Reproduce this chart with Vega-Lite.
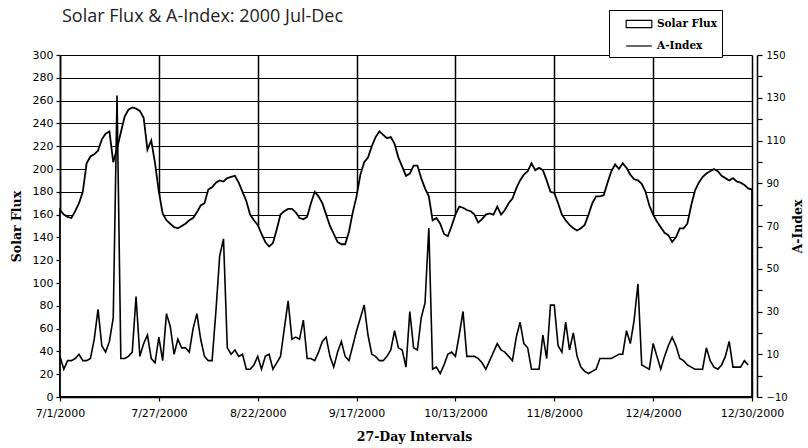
{
  "$schema": "https://vega.github.io/schema/vega-lite/v6.json",
  "width": 692,
  "height": 342,
  "autosize": {"type": "none"},
  "padding": {"left": 60, "top": 55, "right": 56, "bottom": 51},
  "background": "white",
  "config": {"view": {"stroke": null}},
  "title": {"text": "Solar Flux & A-Index: 2000 Jul-Dec", "anchor": "start", "frame": "group", "font": "Open Sans", "fontSize": 18, "fontWeight": "normal", "color": "#222222", "offset": 0, "dy": 16, "dx": 2},
  "data": {"values": [
    {"date": "2000/07/01", "flux": 164, "a": 9},
    {"date": "2000/07/02", "flux": 160, "a": 3},
    {"date": "2000/07/03", "flux": 158, "a": 7},
    {"date": "2000/07/04", "flux": 157, "a": 7},
    {"date": "2000/07/05", "flux": 163, "a": 8},
    {"date": "2000/07/06", "flux": 170, "a": 10},
    {"date": "2000/07/07", "flux": 180, "a": 7},
    {"date": "2000/07/08", "flux": 205, "a": 7},
    {"date": "2000/07/09", "flux": 211, "a": 8},
    {"date": "2000/07/10", "flux": 213, "a": 17},
    {"date": "2000/07/11", "flux": 216, "a": 31},
    {"date": "2000/07/12", "flux": 226, "a": 14},
    {"date": "2000/07/13", "flux": 231, "a": 11},
    {"date": "2000/07/14", "flux": 233, "a": 16},
    {"date": "2000/07/15", "flux": 206, "a": 27},
    {"date": "2000/07/16", "flux": 218, "a": 131},
    {"date": "2000/07/17", "flux": 232, "a": 8},
    {"date": "2000/07/18", "flux": 246, "a": 8},
    {"date": "2000/07/19", "flux": 252, "a": 9},
    {"date": "2000/07/20", "flux": 254, "a": 11},
    {"date": "2000/07/21", "flux": 253, "a": 37},
    {"date": "2000/07/22", "flux": 251, "a": 9},
    {"date": "2000/07/23", "flux": 245, "a": 15},
    {"date": "2000/07/24", "flux": 217, "a": 19},
    {"date": "2000/07/25", "flux": 225, "a": 8},
    {"date": "2000/07/26", "flux": 205, "a": 6},
    {"date": "2000/07/27", "flux": 180, "a": 18},
    {"date": "2000/07/28", "flux": 161, "a": 7},
    {"date": "2000/07/29", "flux": 155, "a": 29},
    {"date": "2000/07/30", "flux": 152, "a": 23},
    {"date": "2000/07/31", "flux": 149, "a": 10},
    {"date": "2000/08/01", "flux": 148, "a": 17},
    {"date": "2000/08/02", "flux": 150, "a": 13},
    {"date": "2000/08/03", "flux": 152, "a": 13},
    {"date": "2000/08/04", "flux": 155, "a": 11},
    {"date": "2000/08/05", "flux": 157, "a": 22},
    {"date": "2000/08/06", "flux": 162, "a": 29},
    {"date": "2000/08/07", "flux": 168, "a": 17},
    {"date": "2000/08/08", "flux": 170, "a": 9},
    {"date": "2000/08/09", "flux": 182, "a": 7},
    {"date": "2000/08/10", "flux": 184, "a": 7},
    {"date": "2000/08/11", "flux": 188, "a": 30},
    {"date": "2000/08/12", "flux": 190, "a": 56},
    {"date": "2000/08/13", "flux": 189, "a": 64},
    {"date": "2000/08/14", "flux": 192, "a": 13},
    {"date": "2000/08/15", "flux": 193, "a": 10},
    {"date": "2000/08/16", "flux": 194, "a": 12},
    {"date": "2000/08/17", "flux": 188, "a": 9},
    {"date": "2000/08/18", "flux": 180, "a": 10},
    {"date": "2000/08/19", "flux": 172, "a": 3},
    {"date": "2000/08/20", "flux": 160, "a": 3},
    {"date": "2000/08/21", "flux": 155, "a": 5},
    {"date": "2000/08/22", "flux": 151, "a": 9},
    {"date": "2000/08/23", "flux": 143, "a": 3},
    {"date": "2000/08/24", "flux": 136, "a": 9},
    {"date": "2000/08/25", "flux": 132, "a": 10},
    {"date": "2000/08/26", "flux": 135, "a": 3},
    {"date": "2000/08/27", "flux": 147, "a": 6},
    {"date": "2000/08/28", "flux": 160, "a": 9},
    {"date": "2000/08/29", "flux": 163, "a": 22},
    {"date": "2000/08/30", "flux": 165, "a": 35},
    {"date": "2000/08/31", "flux": 165, "a": 17},
    {"date": "2000/09/01", "flux": 162, "a": 18},
    {"date": "2000/09/02", "flux": 157, "a": 17},
    {"date": "2000/09/03", "flux": 156, "a": 26},
    {"date": "2000/09/04", "flux": 158, "a": 8},
    {"date": "2000/09/05", "flux": 170, "a": 8},
    {"date": "2000/09/06", "flux": 180, "a": 7},
    {"date": "2000/09/07", "flux": 176, "a": 11},
    {"date": "2000/09/08", "flux": 170, "a": 16},
    {"date": "2000/09/09", "flux": 160, "a": 18},
    {"date": "2000/09/10", "flux": 150, "a": 9},
    {"date": "2000/09/11", "flux": 143, "a": 4},
    {"date": "2000/09/12", "flux": 136, "a": 11},
    {"date": "2000/09/13", "flux": 134, "a": 16},
    {"date": "2000/09/14", "flux": 134, "a": 9},
    {"date": "2000/09/15", "flux": 145, "a": 7},
    {"date": "2000/09/16", "flux": 162, "a": 14},
    {"date": "2000/09/17", "flux": 176, "a": 21},
    {"date": "2000/09/18", "flux": 195, "a": 27},
    {"date": "2000/09/19", "flux": 206, "a": 33},
    {"date": "2000/09/20", "flux": 210, "a": 19},
    {"date": "2000/09/21", "flux": 220, "a": 10},
    {"date": "2000/09/22", "flux": 228, "a": 9},
    {"date": "2000/09/23", "flux": 233, "a": 7},
    {"date": "2000/09/24", "flux": 230, "a": 7},
    {"date": "2000/09/25", "flux": 227, "a": 9},
    {"date": "2000/09/26", "flux": 228, "a": 12},
    {"date": "2000/09/27", "flux": 222, "a": 21},
    {"date": "2000/09/28", "flux": 210, "a": 13},
    {"date": "2000/09/29", "flux": 202, "a": 12},
    {"date": "2000/09/30", "flux": 194, "a": 4},
    {"date": "2000/10/01", "flux": 196, "a": 30},
    {"date": "2000/10/02", "flux": 203, "a": 13},
    {"date": "2000/10/03", "flux": 203, "a": 12},
    {"date": "2000/10/04", "flux": 192, "a": 27},
    {"date": "2000/10/05", "flux": 183, "a": 34},
    {"date": "2000/10/06", "flux": 176, "a": 69},
    {"date": "2000/10/07", "flux": 155, "a": 3},
    {"date": "2000/10/08", "flux": 157, "a": 4},
    {"date": "2000/10/09", "flux": 152, "a": 1},
    {"date": "2000/10/10", "flux": 143, "a": 5},
    {"date": "2000/10/11", "flux": 141, "a": 10},
    {"date": "2000/10/12", "flux": 150, "a": 11},
    {"date": "2000/10/13", "flux": 160, "a": 9},
    {"date": "2000/10/14", "flux": 167, "a": 19},
    {"date": "2000/10/15", "flux": 166, "a": 30},
    {"date": "2000/10/16", "flux": 164, "a": 9},
    {"date": "2000/10/17", "flux": 163, "a": 9},
    {"date": "2000/10/18", "flux": 160, "a": 9},
    {"date": "2000/10/19", "flux": 153, "a": 8},
    {"date": "2000/10/20", "flux": 156, "a": 6},
    {"date": "2000/10/21", "flux": 160, "a": 3},
    {"date": "2000/10/22", "flux": 161, "a": 7},
    {"date": "2000/10/23", "flux": 160, "a": 11},
    {"date": "2000/10/24", "flux": 167, "a": 15},
    {"date": "2000/10/25", "flux": 160, "a": 12},
    {"date": "2000/10/26", "flux": 164, "a": 11},
    {"date": "2000/10/27", "flux": 170, "a": 9},
    {"date": "2000/10/28", "flux": 174, "a": 7},
    {"date": "2000/10/29", "flux": 183, "a": 18},
    {"date": "2000/10/30", "flux": 190, "a": 25},
    {"date": "2000/10/31", "flux": 195, "a": 15},
    {"date": "2000/11/01", "flux": 198, "a": 13},
    {"date": "2000/11/02", "flux": 205, "a": 3},
    {"date": "2000/11/03", "flux": 199, "a": 3},
    {"date": "2000/11/04", "flux": 201, "a": 3},
    {"date": "2000/11/05", "flux": 199, "a": 19},
    {"date": "2000/11/06", "flux": 190, "a": 8},
    {"date": "2000/11/07", "flux": 180, "a": 33},
    {"date": "2000/11/08", "flux": 179, "a": 33},
    {"date": "2000/11/09", "flux": 170, "a": 14},
    {"date": "2000/11/10", "flux": 160, "a": 11},
    {"date": "2000/11/11", "flux": 155, "a": 25},
    {"date": "2000/11/12", "flux": 151, "a": 12},
    {"date": "2000/11/13", "flux": 148, "a": 20},
    {"date": "2000/11/14", "flux": 146, "a": 9},
    {"date": "2000/11/15", "flux": 148, "a": 4},
    {"date": "2000/11/16", "flux": 151, "a": 2},
    {"date": "2000/11/17", "flux": 160, "a": 1},
    {"date": "2000/11/18", "flux": 170, "a": 2},
    {"date": "2000/11/19", "flux": 176, "a": 3},
    {"date": "2000/11/20", "flux": 176, "a": 8},
    {"date": "2000/11/21", "flux": 177, "a": 8},
    {"date": "2000/11/22", "flux": 188, "a": 8},
    {"date": "2000/11/23", "flux": 198, "a": 8},
    {"date": "2000/11/24", "flux": 204, "a": 9},
    {"date": "2000/11/25", "flux": 200, "a": 10},
    {"date": "2000/11/26", "flux": 205, "a": 10},
    {"date": "2000/11/27", "flux": 201, "a": 21},
    {"date": "2000/11/28", "flux": 195, "a": 15},
    {"date": "2000/11/29", "flux": 191, "a": 26},
    {"date": "2000/11/30", "flux": 190, "a": 43},
    {"date": "2000/12/01", "flux": 187, "a": 5},
    {"date": "2000/12/02", "flux": 180, "a": 4},
    {"date": "2000/12/03", "flux": 168, "a": 3},
    {"date": "2000/12/04", "flux": 160, "a": 15},
    {"date": "2000/12/05", "flux": 154, "a": 9},
    {"date": "2000/12/06", "flux": 149, "a": 3},
    {"date": "2000/12/07", "flux": 144, "a": 9},
    {"date": "2000/12/08", "flux": 142, "a": 14},
    {"date": "2000/12/09", "flux": 136, "a": 18},
    {"date": "2000/12/10", "flux": 140, "a": 14},
    {"date": "2000/12/11", "flux": 148, "a": 8},
    {"date": "2000/12/12", "flux": 148, "a": 7},
    {"date": "2000/12/13", "flux": 152, "a": 5},
    {"date": "2000/12/14", "flux": 168, "a": 4},
    {"date": "2000/12/15", "flux": 181, "a": 3},
    {"date": "2000/12/16", "flux": 188, "a": 3},
    {"date": "2000/12/17", "flux": 193, "a": 3},
    {"date": "2000/12/18", "flux": 196, "a": 13},
    {"date": "2000/12/19", "flux": 198, "a": 7},
    {"date": "2000/12/20", "flux": 200, "a": 4},
    {"date": "2000/12/21", "flux": 198, "a": 3},
    {"date": "2000/12/22", "flux": 194, "a": 5},
    {"date": "2000/12/23", "flux": 192, "a": 9},
    {"date": "2000/12/24", "flux": 190, "a": 16},
    {"date": "2000/12/25", "flux": 192, "a": 4},
    {"date": "2000/12/26", "flux": 189, "a": 4},
    {"date": "2000/12/27", "flux": 188, "a": 4},
    {"date": "2000/12/28", "flux": 186, "a": 7},
    {"date": "2000/12/29", "flux": 183, "a": 5},
    {"date": "2000/12/30", "flux": 182}
  ]},
  "layer": [
    {
      "mark": {"type": "area", "fill": "white", "fillOpacity": 1, "strokeWidth": 1.8, "strokeJoin": "miter"},
      "encoding": {
        "x": {
          "field": "date", "type": "temporal",
          "scale": {"domain": [{"year": 2000, "month": 7, "date": 1}, {"year": 2000, "month": 12, "date": 30}], "nice": false},
          "axis": {
            "values": [
              {"year": 2000, "month": 7, "date": 1},
              {"year": 2000, "month": 7, "date": 27},
              {"year": 2000, "month": 8, "date": 22},
              {"year": 2000, "month": 9, "date": 17},
              {"year": 2000, "month": 10, "date": 13},
              {"year": 2000, "month": 11, "date": 8},
              {"year": 2000, "month": 12, "date": 4},
              {"year": 2000, "month": 12, "date": 30}
            ],
            "format": "%-m/%-d/%Y",
            "grid": true, "gridColor": "black", "gridWidth": 1.5, "gridOpacity": 1,
            "domainColor": "black", "domainWidth": 1.5,
            "tickColor": "black", "tickSize": 4, "tickWidth": 1.2,
            "labelFont": "DejaVu Sans", "labelFontSize": 11, "labelColor": "black", "labelPadding": 6,
            "labelFlush": false, "labelOverlap": false,
            "title": "27-Day Intervals", "titleFont": "DejaVu Serif", "titleFontSize": 12.5, "titleFontWeight": "bold", "titleColor": "black", "titlePadding": 12, "titleX": 354
          }
        },
        "y": {
          "field": "flux", "type": "quantitative",
          "scale": {"domain": [0, 300], "nice": false},
          "axis": {
            "values": [0, 20, 40, 60, 80, 100, 120, 140, 160, 180, 200, 220, 240, 260, 280, 300],
            "grid": true, "gridColor": "black", "gridWidth": 1.2, "gridOpacity": 1,
            "domainColor": "black", "domainWidth": 1.5,
            "tickColor": "black", "tickSize": 4, "tickWidth": 1.2,
            "labelFont": "DejaVu Sans", "labelFontSize": 11, "labelColor": "black", "labelPadding": 3,
            "title": "Solar Flux", "titleFont": "DejaVu Serif", "titleFontSize": 12.5, "titleFontWeight": "bold", "titleColor": "black", "titlePadding": 9
          }
        },
        "stroke": {
          "datum": "Solar Flux", "type": "nominal",
          "scale": {"domain": ["Solar Flux", "A-Index"], "range": ["black", "black"]},
          "legend": {
            "orient": "none", "legendX": 549, "legendY": -45,
            "title": null, "fillColor": "white", "strokeColor": "black", "padding": 5,
            "labelFont": "DejaVu Serif", "labelFontWeight": "bold", "labelFontSize": 10.5, "labelColor": "black",
            "labelExpr": "datum.label + '    '",
            "symbolSize": 256, "symbolOffset": 16, "labelOffset": 9, "rowPadding": 7,
            "symbolType": {"expr": "datum.value === 'Solar Flux' ? 'M-1.6,-0.45H1.6V0.45H-1.6Z' : 'M-1.6,0H1.6'"},
            "symbolFillColor": "white", "symbolStrokeColor": "black", "symbolStrokeWidth": 1.2
          }
        }
      }
    },
    {
      "mark": {"type": "line", "strokeWidth": 1.6, "strokeJoin": "miter"},
      "encoding": {
        "x": {"field": "date", "type": "temporal"},
        "y": {
          "field": "a", "type": "quantitative",
          "scale": {"domain": [-10, 150], "nice": false, "zero": false},
          "axis": {
            "orient": "right", "offset": 5,
            "values": [-10, 0, 10, 20, 30, 40, 50, 60, 70, 80, 90, 100, 110, 120, 130, 140, 150],
            "labelExpr": "abs(datum.value) % 20 == 10 ? datum.label : ''",
            "grid": false,
            "domainColor": "black", "domainWidth": 1.5,
            "tickColor": "black", "tickSize": 5, "tickWidth": 1.2,
            "labelFont": "DejaVu Sans", "labelFontSize": 10, "labelColor": "black", "labelPadding": 4,
            "title": "A-Index", "titleFont": "DejaVu Serif", "titleFontSize": 12.5, "titleFontWeight": "bold", "titleColor": "black", "titleAngle": 270, "titlePadding": 17
          }
        },
        "stroke": {"datum": "A-Index", "type": "nominal"}
      }
    }
  ],
  "resolve": {"scale": {"y": "independent"}}
}
